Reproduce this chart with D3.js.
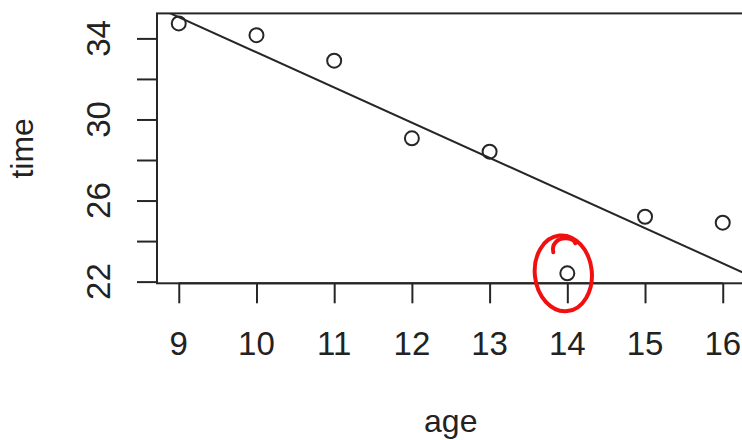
<!DOCTYPE html>
<html lang="en">
<head>
    <meta charset="UTF-8">
    <title>time vs age</title>
    <style>
        html, body { margin: 0; padding: 0; background: #fff; }
        #chart-wrapper { width: 742px; height: 440px; overflow: hidden; }
        text { font-family: "Liberation Sans", Arial, Helvetica, sans-serif; fill: #222; }
    </style>
</head>
<body>
    <div id="chart-wrapper"></div>

    <script src="https://d3js.org/d3.v7.min.js"></script>
    <script>
        // data
        const ages = [9, 10, 11, 12, 13, 14, 15, 16]
        const times = [34.74, 34.16, 32.90, 29.07, 28.41, 22.41, 25.20, 24.91]
        const yTicks = [22, 24, 26, 28, 30, 32, 34]
        const yTickLabels = [22, 26, 30, 34]
        const highlightAge = 14

        const width = 742
        const height = 440
        const plot = { left: 157, right: 744.5, top: 13.4, bottom: 283.3 }
        const ink = '#262626'

        // R style 4% axis expansion
        const pad = ext => {
            const d = (ext[1] - ext[0]) * 0.04
            return [ext[0] - d, ext[1] + d]
        }

        const x = d3.scaleLinear()
            .domain(pad(d3.extent(ages)))
            .range([plot.left, plot.right])
        const y = d3.scaleLinear()
            .domain(pad(d3.extent(times)))
            .range([plot.bottom, plot.top])

        const svg = d3.select('#chart-wrapper')
            .append('svg')
            .attr('width', width)
            .attr('height', height)

        // least squares fit, like abline(lm(time ~ age))
        const mx = d3.mean(ages)
        const my = d3.mean(times)
        const slope = d3.sum(ages, (a, i) => (a - mx) * (times[i] - my)) / d3.sum(ages, a => (a - mx) ** 2)
        const intercept = my - slope * mx

        svg.append('clipPath')
            .attr('id', 'plot-clip')
            .append('rect')
            .attr('x', plot.left)
            .attr('y', plot.top)
            .attr('width', plot.right - plot.left)
            .attr('height', plot.bottom - plot.top)

        const xd = x.domain()
        svg.append('line')
            .attr('clip-path', 'url(#plot-clip)')
            .attr('x1', x(xd[0]))
            .attr('y1', y(intercept + slope * xd[0]))
            .attr('x2', x(xd[1]))
            .attr('y2', y(intercept + slope * xd[1]))
            .attr('stroke', ink)
            .attr('stroke-width', 2)

        // box
        svg.append('rect')
            .attr('x', plot.left)
            .attr('y', plot.top)
            .attr('width', plot.right - plot.left)
            .attr('height', plot.bottom - plot.top)
            .attr('fill', 'none')
            .attr('stroke', ink)
            .attr('stroke-width', 2)

        // x axis
        const xAxis = svg.append('g')
            .attr('transform', `translate(0, ${ plot.bottom })`)
            .call(d3.axisBottom(x).tickValues(ages).tickSize(20).tickFormat(''))
        xAxis.select('.domain')
            .attr('d', `M${ x(ages[0]) },0H${ x(ages[ages.length - 1]) }`)
        xAxis.selectAll('line, path').attr('stroke', ink).attr('stroke-width', 2)

        svg.append('g')
            .selectAll('text')
            .data(ages)
            .enter()
            .append('text')
            .attr('x', d => x(d))
            .attr('y', 355)
            .attr('text-anchor', 'middle')
            .attr('font-size', 33)
            .text(d => d)

        // y axis
        const yAxis = svg.append('g')
            .attr('transform', `translate(${ plot.left }, 0)`)
            .call(d3.axisLeft(y).tickValues(yTicks).tickSize(20).tickFormat(''))
        yAxis.select('.domain')
            .attr('d', `M0,${ y(yTicks[0]) }V${ y(yTicks[yTicks.length - 1]) }`)
        yAxis.selectAll('line, path').attr('stroke', ink).attr('stroke-width', 2)

        svg.append('g')
            .selectAll('text')
            .data(yTickLabels)
            .enter()
            .append('text')
            .attr('transform', d => `translate(110, ${ y(d) }) rotate(-90)`)
            .attr('text-anchor', 'middle')
            .attr('font-size', 33)
            .text(d => d)

        // axis titles
        svg.append('text')
            .attr('x', (plot.left + plot.right) / 2)
            .attr('y', 431.5)
            .attr('text-anchor', 'middle')
            .attr('font-size', 32)
            .text('age')

        svg.append('text')
            .attr('transform', `translate(33, ${ (plot.top + plot.bottom) / 2 }) rotate(-90)`)
            .attr('text-anchor', 'middle')
            .attr('font-size', 32)
            .text('time')

        // points
        svg.append('g')
            .selectAll('circle')
            .data(ages)
            .enter()
            .append('circle')
            .attr('cx', d => x(d))
            .attr('cy', (d, i) => y(times[i]))
            .attr('r', 7)
            .attr('fill', 'none')
            .attr('stroke', ink)
            .attr('stroke-width', 2)

        // hand drawn red ring round the age 14 point
        const hx = x(highlightAge)
        const hy = y(times[ages.indexOf(highlightAge)])
        const mark = svg.append('g')
            .attr('transform', `translate(${ hx - 4 }, ${ hy })`)
            .attr('fill', 'none')
            .attr('stroke', '#f01010')
            .attr('stroke-width', 4)
            .attr('stroke-linecap', 'round')
        mark.append('ellipse')
            .attr('rx', 28.5)
            .attr('ry', 38)
            .attr('transform', 'rotate(-6)')
        mark.append('path')
            .attr('d', 'M-10,-21 C-12,-29 -6,-35 2,-35 C8,-35 11,-33 12,-30')
    </script>
</body>
</html>
